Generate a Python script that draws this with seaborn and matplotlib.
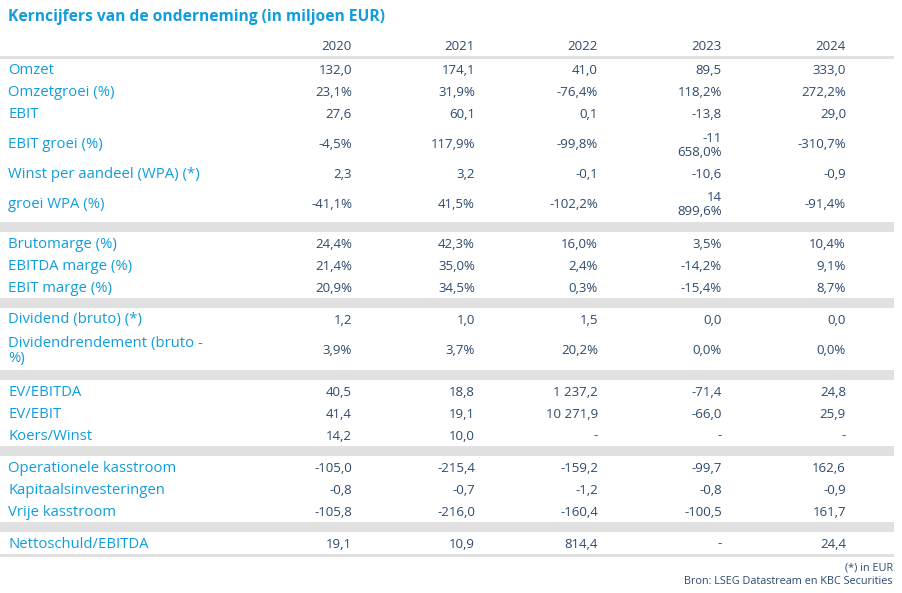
import numpy as np
import pandas as pd
import matplotlib
matplotlib.use("Agg")
import matplotlib.pyplot as plt
import seaborn as sns

# DATA
title = "Kerncijfers van de onderneming (in miljoen EUR)"
years = ["2020", "2021", "2022", "2023", "2024"]

labels = [
    "Omzet", "Omzetgroei (%)", "EBIT", "EBIT groei (%)",
    "Winst per aandeel (WPA) (*)", "groei WPA (%)",
    "Brutomarge (%)", "EBITDA marge (%)", "EBIT marge (%)",
    "Dividend (bruto) (*)", "Dividendrendement (bruto -\n%)",
    "EV/EBITDA", "EV/EBIT", "Koers/Winst",
    "Operationele kasstroom", "Kapitaalsinvesteringen", "Vrije kasstroom",
    "Nettoschuld/EBITDA",
]
v2020 = ["132,0", "23,1%", "27,6", "-4,5%", "2,3", "-41,1%",
         "24,4%", "21,4%", "20,9%", "1,2", "3,9%",
         "40,5", "41,4", "14,2", "-105,0", "-0,8", "-105,8", "19,1"]
v2021 = ["174,1", "31,9%", "60,1", "117,9%", "3,2", "41,5%",
         "42,3%", "35,0%", "34,5%", "1,0", "3,7%",
         "18,8", "19,1", "10,0", "-215,4", "-0,7", "-216,0", "10,9"]
v2022 = ["41,0", "-76,4%", "0,1", "-99,8%", "-0,1", "-102,2%",
         "16,0%", "2,4%", "0,3%", "1,5", "20,2%",
         "1 237,2", "10 271,9", "-", "-159,2", "-1,2", "-160,4", "814,4"]
v2023 = ["89,5", "118,2%", "-13,8", "-11\n658,0%", "-10,6", "14\n899,6%",
         "3,5%", "-14,2%", "-15,4%", "0,0", "0,0%",
         "-71,4", "-66,0", "-", "-99,7", "-0,8", "-100,5", "-"]
v2024 = ["333,0", "272,2%", "29,0", "-310,7%", "-0,9", "-91,4%",
         "10,4%", "9,1%", "8,7%", "0,0", "0,0%",
         "24,8", "25,9", "-", "162,6", "-0,9", "161,7", "24,4"]
groups = [1, 1, 1, 1, 1, 1, 2, 2, 2, 3, 3, 4, 4, 4, 5, 5, 5, 6]
footnote = "(*) in EUR"
source = "Bron: LSEG Datastream en KBC Securities"

df = pd.DataFrame({"label": labels, "2020": v2020, "2021": v2021,
                   "2022": v2022, "2023": v2023, "2024": v2024,
                   "group": groups})

# LAYOUT (pixels)
W, H = 902, 593
row_h = [22, 22, 22, 38, 22, 37, 22, 22, 22, 22, 40, 22, 22, 22, 22, 22, 22, 22]
col_right = [352, 475, 598, 722, 846]
table_right = 894
band_h = 10
dy = 1  # small baseline shift
BLUE = "#109ddd"
NAVY = "#2c4a6e"
GREY = "#e1e1e1"

sns.set_theme(style="white")
plt.rcParams["font.family"] = ["Open Sans", "DejaVu Sans"]

fig = plt.figure(figsize=(W / 100, H / 100), dpi=100)
ax = fig.add_axes([0, 0, 1, 1])
ax.set_xlim(0, W)
ax.set_ylim(H, 0)
ax.axis("off")

ax.text(8, 16 + dy, title, color=BLUE, fontsize=11.25, fontweight="bold",
        va="center", ha="left")

for x, yr in zip(col_right, years):
    ax.text(x, 46 + dy, yr, color=NAVY, fontsize=9.5, ha="right", va="center")

# header line
ax.axhspan(56, 59, xmin=0, xmax=table_right / W, color=GREY, lw=0)

y = 59
prev = df["group"].iloc[0]
for i, row in df.iterrows():
    if row["group"] != prev:
        ax.axhspan(y, y + band_h, xmin=0, xmax=table_right / W, color=GREY, lw=0)
        y += band_h
        prev = row["group"]
    h = row_h[i]
    yc = y + h / 2 + dy
    ax.text(8, yc, row["label"], color=BLUE, fontsize=10.7, ha="left",
            va="center", linespacing=1.05)
    for x, yr in zip(col_right, years):
        ax.text(x, yc, row[yr], color=NAVY, fontsize=9.5, ha="right",
                va="center", multialignment="right", linespacing=1.1)
    y += h

# bottom line
ax.axhspan(y, y + 3, xmin=0, xmax=table_right / W, color=GREY, lw=0)

ax.text(893, 567 + dy, footnote, color=NAVY, fontsize=7.85, ha="right", va="center")
ax.text(893, 581 + dy, source, color=NAVY, fontsize=7.85, ha="right", va="center")

fig.savefig("out.png", dpi=100, facecolor="white")
